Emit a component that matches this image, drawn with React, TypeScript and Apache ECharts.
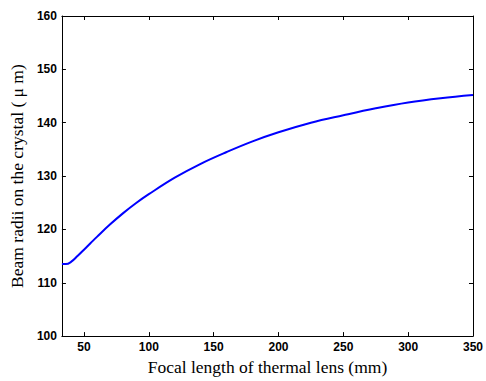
import React, { useEffect, useRef } from "react";
import * as echarts from "echarts";

const focalLength = [33, 36, 40, 45, 50, 55, 60, 70, 80, 90, 100, 120, 140, 160, 180, 200, 225, 250, 275, 300, 325, 350];
const beamRadius = [113.5, 113.5, 113.9, 115.0, 116.2, 117.4, 118.6, 120.9, 123.0, 124.9, 126.6, 129.7, 132.3, 134.5, 136.5, 138.2, 140.0, 141.4, 142.7, 143.8, 144.6, 145.2];
const xTicks = [50, 100, 150, 200, 250, 300, 350];

export default function App() {
  const ref = useRef<HTMLDivElement>(null);
  useEffect(() => {
    document.body.style.margin = "0";
    document.body.style.overflow = "hidden";
    if (!ref.current) return;
    const chart = echarts.init(ref.current, null, { renderer: "svg" });
    const labelStyle = {
      fontFamily: "Liberation Sans, Arial, sans-serif",
      fontWeight: "bold" as const,
      fontSize: 12,
      color: "#000",
    };
    const lineStyle = { color: "#000", width: 1 };
    const titleStyle = { fontFamily: "Liberation Serif, Times New Roman, serif", fontSize: 17.5, color: "#000" };
    chart.setOption({
      animation: false,
      backgroundColor: "#fff",
      grid: { left: 58, right: 10, top: 16, bottom: 36, containLabel: false },
      xAxis: [
        {
          type: "value",
          min: 33,
          max: 350,
          position: "bottom",
          axisLine: { show: true, onZero: false, lineStyle },
          axisTick: { show: true, inside: true, length: 4, customValues: xTicks, lineStyle },
          axisLabel: { ...labelStyle, customValues: xTicks, margin: 5 },
          splitLine: { show: false },
          name: "Focal length of thermal lens (mm)",
          nameLocation: "middle",
          nameGap: 18,
          nameTextStyle: titleStyle,
        },
        {
          type: "value",
          min: 33,
          max: 350,
          position: "top",
          axisLine: { show: true, onZero: false, lineStyle },
          axisTick: { show: true, inside: true, length: 4, customValues: xTicks, lineStyle },
          axisLabel: { show: false },
          splitLine: { show: false },
        },
      ],
      yAxis: [
        {
          type: "value",
          min: 100,
          max: 160,
          interval: 10,
          position: "left",
          axisLine: { show: true, onZero: false, lineStyle },
          axisTick: { show: true, inside: true, length: 4, lineStyle },
          axisLabel: { ...labelStyle, margin: 5 },
          splitLine: { show: false },
          name: "Beam radii on the crystal ( \u03bc m)",
          nameLocation: "middle",
          nameGap: 30,
          nameRotate: 90,
          nameTextStyle: titleStyle,
        },
        {
          type: "value",
          min: 100,
          max: 160,
          interval: 10,
          position: "right",
          axisLine: { show: true, onZero: false, lineStyle },
          axisTick: { show: true, inside: true, length: 4, lineStyle },
          axisLabel: { show: false },
          splitLine: { show: false },
        },
      ],
      series: [
        {
          type: "line",
          data: focalLength.map((x, i) => [x, beamRadius[i]]),
          smooth: 0.4,
          showSymbol: false,
          lineStyle: { color: "#0000ff", width: 2 },
        },
      ],
    });
    return () => chart.dispose();
  }, []);
  return <div ref={ref} style={{ position: "fixed", left: 0, top: 0, width: 486, height: 381 }} />;
}
